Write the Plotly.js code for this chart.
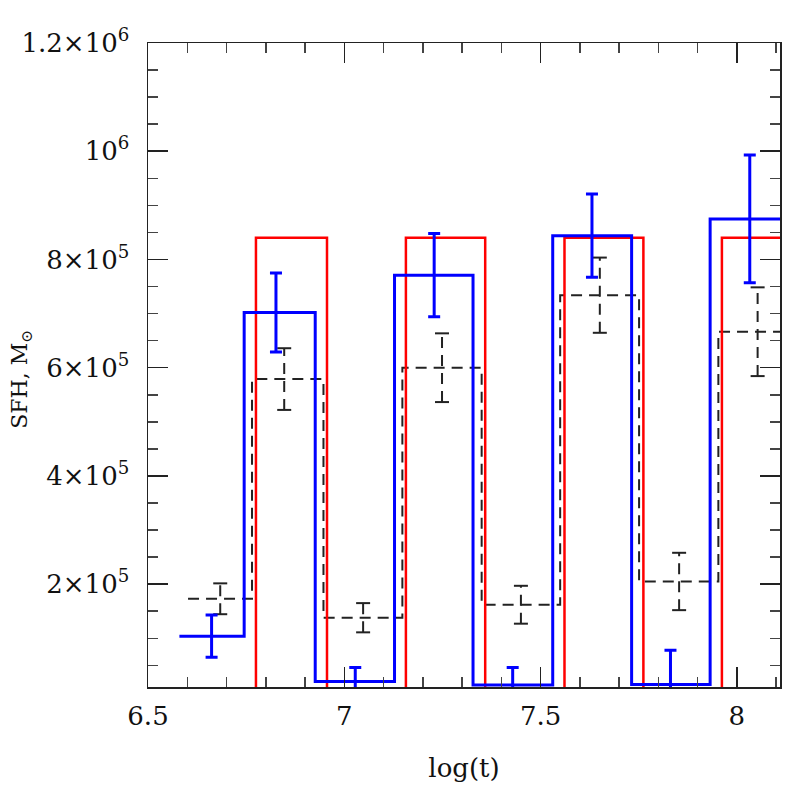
<!DOCTYPE html>
<html>
<head>
<meta charset="utf-8">
<script src="https://cdn.plot.ly/plotly-3.0.1.min.js"></script>
<style>html,body{margin:0;padding:0;background:#fff;}#chart{width:797px;height:797px;}</style>
</head>
<body>
<div id="chart"></div>
<script>
// Red model bins (step histogram)
const redEdges = [6.775, 6.956, 7.157, 7.359, 7.561, 7.762, 7.962, 8.2];
const redVals  = [8.4e5, 0, 8.4e5, 0, 8.4e5, 0, 8.4e5];

// Blue recovered SFH (step) with error bars
const blueEdges = [6.58, 6.745, 6.926, 7.128, 7.328, 7.531, 7.732, 7.932, 8.2];
const blueVals  = [1.04e5, 7.02e5, 2.0e4, 7.71e5, 1.35e4, 8.44e5, 1.48e4, 8.75e5];
const blueErrX  = [6.662, 6.826, 7.028, 7.229, 7.429, 7.631, 7.831, 8.033];
const blueErr   = [3.9e4, 7.3e4, 2.6e4, 7.7e4, 3.25e4, 7.7e4, 6.3e4, 1.18e5];

// Black dashed SFH (step) with error bars
const blackEdges = [6.602, 6.765, 6.947, 7.148, 7.35, 7.55, 7.751, 7.953, 8.2];
const blackVals  = [1.73e5, 5.79e5, 1.38e5, 6.0e5, 1.62e5, 7.34e5, 2.05e5, 6.665e5];
const blackErrX  = [6.684, 6.847, 7.048, 7.249, 7.45, 7.651, 7.853, 8.053];
const blackErr   = [2.85e4, 5.7e4, 2.7e4, 6.35e4, 3.5e4, 6.95e4, 5.3e4, 8.2e4];

// Axis ticks
const xTickVals = [6.5, 7, 7.5, 8];
const xTickText = ['6.5', '7', '7.5', '8'];
const yTickVals = [2e5, 4e5, 6e5, 8e5, 1e6, 1.2e6];
const yTickText = ['2×10<sup>5</sup>', '4×10<sup>5</sup>', '6×10<sup>5</sup>', '8×10<sup>5</sup>', '10<sup>6</sup>', '1.2×10<sup>6</sup>'];

function steps(edges, vals, fromZero) {
  const x = [], y = [];
  if (fromZero) { x.push(edges[0]); y.push(0); }
  for (let i = 0; i < vals.length; i++) {
    x.push(edges[i]); y.push(vals[i]);
    x.push(edges[i + 1]); y.push(vals[i]);
  }
  return {x, y};
}

const red = steps(redEdges, redVals, true);
const blue = steps(blueEdges, blueVals, false);
const black = steps(blackEdges, blackVals, false);

// black dashed error bar stems and caps
const bex = [], bey = [], capx = [], capy = [];
for (let i = 0; i < blackErrX.length; i++) {
  const c = blackErrX[i];
  const j = blackEdges.findIndex((e, k) => c >= e && c < blackEdges[k + 1]);
  const v = blackVals[j];
  bex.push(c, c, null); bey.push(v - blackErr[i], v + blackErr[i], null);
  capx.push(c, c); capy.push(v - blackErr[i], v + blackErr[i]);
}
const bluePtY = blueErrX.map(c => {
  const j = blueEdges.findIndex((e, k) => c >= e && c < blueEdges[k + 1]);
  return blueVals[j];
});

const traces = [
  {x: black.x, y: black.y, mode: 'lines', line: {color: '#222', width: 2, dash: '11px,7px'}, hoverinfo: 'skip'},
  {x: bex, y: bey, mode: 'lines', line: {color: '#222', width: 2, dash: '11px,7px'}, connectgaps: false, hoverinfo: 'skip'},
  {x: capx, y: capy, mode: 'markers', marker: {symbol: 'line-ew', size: 10, line: {color: '#222', width: 2}}, hoverinfo: 'skip'},
  {x: red.x, y: red.y, mode: 'lines', line: {color: '#ff0000', width: 2.5}, hoverinfo: 'skip'},
  {x: blue.x, y: blue.y, mode: 'lines', line: {color: '#0000ff', width: 3}, hoverinfo: 'skip'},
  {x: blueErrX, y: bluePtY, mode: 'markers', marker: {size: 1, opacity: 0},
   error_y: {type: 'data', array: blueErr, visible: true, color: '#0000ff', thickness: 3, width: 6}, hoverinfo: 'skip'}
];

const fontFam = 'DejaVu Serif, Liberation Serif, serif';
const layout = {
  width: 797, height: 797,
  margin: {l: 148, r: 17, t: 43, b: 110},
  paper_bgcolor: '#fff', plot_bgcolor: '#fff',
  showlegend: false,
  font: {family: fontFam, color: '#111', size: 26},
  xaxis: {
    range: [6.5, 8.11], tickmode: 'array', tickvals: xTickVals, ticktext: xTickText,
    ticks: 'inside', ticklen: 20, tickwidth: 1.5, tickcolor: '#222',
    showline: true, linecolor: '#222', linewidth: 1.5, mirror: 'allticks',
    showgrid: false, zeroline: false, ticklabelstandoff: 5,
    minor: {tick0: 6.5, dtick: 0.1, ticks: 'inside', ticklen: 10, tickwidth: 1.5, tickcolor: '#444', showgrid: false},
    tickfont: {size: 26, family: fontFam},
    title: {text: 'log(t)', font: {size: 26, family: fontFam}, standoff: 29}
  },
  yaxis: {
    range: [1e4, 1.2e6], tickmode: 'array', tickvals: yTickVals, ticktext: yTickText,
    ticks: 'inside', ticklen: 20, tickwidth: 1.5, tickcolor: '#222',
    showline: true, linecolor: '#222', linewidth: 1.5, mirror: 'allticks',
    showgrid: false, zeroline: false, ticklabelstandoff: 12,
    minor: {tick0: 0, dtick: 5e4, ticks: 'inside', ticklen: 10, tickwidth: 1.5, tickcolor: '#444', showgrid: false},
    tickfont: {size: 26, family: fontFam}
  },
  annotations: [{
    text: 'SFH, M<sub>⊙</sub>', xref: 'paper', yref: 'paper', x: -0.2, y: 0.478,
    textangle: -90, showarrow: false, xanchor: 'center', yanchor: 'middle',
    font: {size: 22, family: fontFam, color: '#111'}
  }]
};

Plotly.newPlot('chart', traces, layout, {staticPlot: true, displayModeBar: false});
</script>
</body>
</html>
